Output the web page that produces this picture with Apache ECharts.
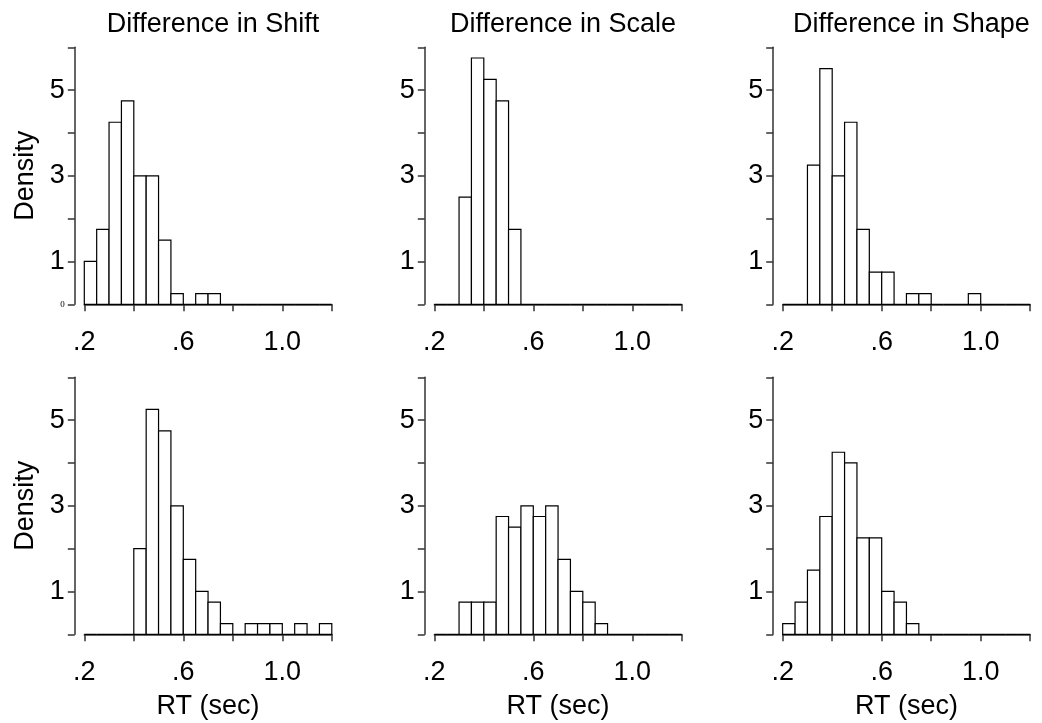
<!DOCTYPE html>
<html>
<head>
<meta charset="utf-8">
<script src="https://cdn.jsdelivr.net/npm/echarts@6/dist/echarts.min.js"></script>
<style>
  html, body { margin: 0; padding: 0; background: #fff; }
  #chart { width: 1042px; height: 723px; }
</style>
</head>
<body>
<div id="chart"></div>
<script>
// bin edges (sec), 0.05 wide
const breaks = [0.2, 0.25, 0.3, 0.35, 0.4, 0.45, 0.5, 0.55, 0.6, 0.65, 0.7,
  0.75, 0.8, 0.85, 0.9, 0.95, 1.0, 1.05, 1.1, 1.15, 1.2]

// densities per bin
const shiftTop = [1, 1.75, 4.25, 4.75, 3, 3, 1.5, 0.25, 0, 0.25, 0.25, 0, 0, 0, 0, 0, 0, 0, 0, 0]
const scaleTop = [0, 0, 2.5, 5.75, 5.25, 4.75, 1.75, 0, 0, 0, 0, 0, 0, 0, 0, 0, 0, 0, 0, 0]
const shapeTop = [0, 0, 3.25, 5.5, 3, 4.25, 1.75, 0.75, 0.75, 0, 0.25, 0.25, 0, 0, 0, 0.25, 0, 0, 0, 0]
const shiftBottom = [0, 0, 0, 0, 2, 5.25, 4.75, 3, 1.75, 1, 0.75, 0.25, 0, 0.25, 0.25, 0.25, 0, 0.25, 0, 0.25]
const scaleBottom = [0, 0, 0.75, 0.75, 0.75, 2.75, 2.5, 3, 2.75, 3, 1.75, 1, 0.75, 0.25, 0, 0, 0, 0, 0, 0]
const shapeBottom = [0.25, 0.75, 1.5, 2.75, 4.25, 4, 2.25, 2.25, 1, 0.75, 0.25, 0, 0, 0, 0, 0, 0, 0, 0, 0]

const titles = ['Difference in Shift', 'Difference in Scale', 'Difference in Shape']
const xTickLabels = { '0.2': '.2', '0.6': '.6', '1': '1.0' }
const yTickLabels = { 1: '1', 3: '3', 5: '5' }

const panels = [shiftTop, scaleTop, shapeTop, shiftBottom, scaleBottom, shapeBottom]

const font = "'Liberation Sans', Arial, Helvetica, sans-serif"
const fs = 27
const colLeft = [84.3, 434.3, 782.7]
const colWidth = 247.5
const rowTop = [47.3, 377.3]
const rowHeight = 257

const chart = echarts.init(document.getElementById('chart'))

const grid = []
const xAxis = []
const yAxis = []
const series = []
const title = []

panels.forEach((vals, k) => {
  const r = Math.floor(k / 3)
  const c = k % 3
  grid.push({ left: colLeft[c], top: rowTop[r], width: colWidth, height: rowHeight })
  xAxis.push({
    gridIndex: k,
    type: 'value',
    min: 0.2,
    max: 1.2,
    interval: 0.2,
    offset: 9.5,
    splitLine: { show: false },
    axisLine: { lineStyle: { color: '#333', width: 1.5 } },
    axisTick: { length: 7, lineStyle: { color: '#333', width: 1.5 } },
    axisLabel: {
      margin: 15,
      fontSize: fs,
      fontFamily: font,
      color: '#000',
      formatter: (v) => xTickLabels[String(Math.round(v * 10) / 10)] || ''
    },
    name: r === 1 ? 'RT (sec)' : '',
    nameLocation: 'middle',
    nameGap: 49,
    nameTextStyle: { fontSize: fs, fontFamily: font, color: '#000' }
  })
  yAxis.push({
    gridIndex: k,
    type: 'value',
    min: 0,
    max: 6,
    interval: 1,
    offset: 9.5,
    splitLine: { show: false },
    axisLine: { lineStyle: { color: '#333', width: 1.5 } },
    axisTick: { length: 7, lineStyle: { color: '#333', width: 1.5 } },
    axisLabel: {
      margin: 10,
      fontSize: fs,
      fontFamily: font,
      color: '#000',
      formatter: (v) => {
        if (v === 0) return k === 0 ? '{s|0}' : ''
        return yTickLabels[v] || ''
      },
      rich: { s: { fontSize: 9, fontFamily: "'Liberation Serif', serif", color: '#000' } }
    },
    name: c === 0 ? 'Density' : '',
    nameLocation: 'middle',
    nameRotate: 90,
    nameGap: 36,
    nameTextStyle: { fontSize: fs, fontFamily: font, color: '#000' }
  })
  series.push({
    type: 'custom',
    xAxisIndex: k,
    yAxisIndex: k,
    data: vals.map((h, i) => [breaks[i], breaks[i + 1], h]),
    renderItem: (params, api) => {
      const p0 = api.coord([api.value(0), api.value(2)])
      const p1 = api.coord([api.value(1), 0])
      return {
        type: 'rect',
        shape: { x: p0[0], y: p0[1], width: p1[0] - p0[0], height: p1[1] - p0[1] },
        style: { fill: '#fff', stroke: '#000', lineWidth: 1.2 }
      }
    }
  })
  if (r === 0) {
    title.push({
      text: titles[c],
      left: colLeft[c] + colWidth / 2,
      top: 6,
      textAlign: 'center',
      textStyle: { fontSize: fs, fontWeight: 'normal', fontFamily: font, color: '#000' }
    })
  }
})

chart.setOption({
  animation: false,
  title,
  grid,
  xAxis,
  yAxis,
  series
})
</script>
</body>
</html>
